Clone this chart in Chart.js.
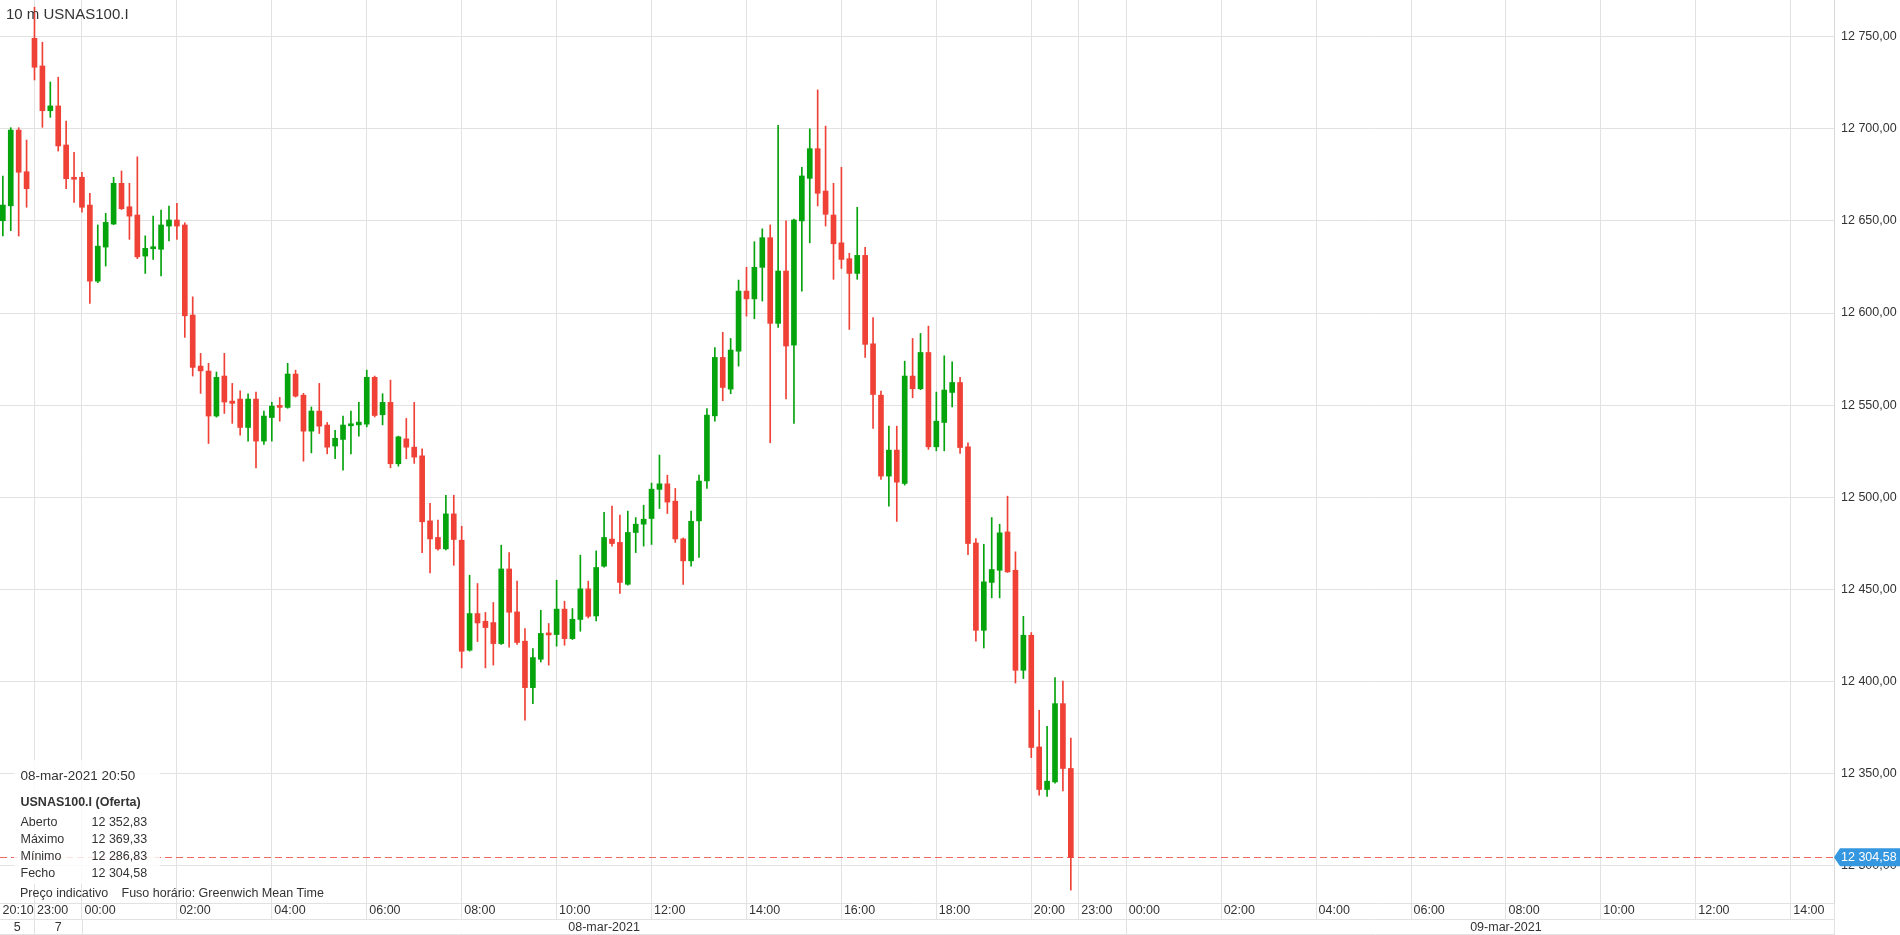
<!DOCTYPE html>
<html>
<head>
<meta charset="utf-8">
<title>10 m USNAS100.I</title>
<script src="https://cdn.jsdelivr.net/npm/chart.js@4.4.1/dist/chart.umd.min.js"></script>
<style>
  html, body { margin: 0; padding: 0; background: #fff; }
  #grafico { display: block; }
</style>
</head>
<body>
<canvas id="grafico" width="1900" height="935"></canvas>
<script>
'use strict';

// Velas de 10 minutos: índice 0 = 07-mar 23:00, os 4 primeiros são de 05-mar (20:20 a 20:50)
const primeiroIndice = -4;

const aberturas = [
    12650.1, 12658.2, 12699.3, 12676.7, 12749.1, 12734.1, 12709.8, 12712.4, 12691.2, 12673.4,
    12673.7, 12658.6, 12617.3, 12635.8, 12648.3, 12670.4, 12657.7, 12653.2, 12630.9, 12634.9,
    12634.6, 12647.2, 12650.5, 12647.8, 12598.9, 12571.2, 12568.5, 12544.1, 12565.8, 12552.2,
    12553.3, 12537.9, 12553.3, 12530.5, 12543.3, 12549.5, 12548.8, 12566.9, 12555.4, 12535.9,
    12546.8, 12539.2, 12527.8, 12531.4, 12538.8, 12539.3, 12539.7, 12565.1, 12544.8, 12551.5,
    12518.2, 12531.7, 12527.2, 12522.5, 12487.2, 12478.2, 12472.0, 12491.0, 12476.7, 12417.0,
    12436.9, 12432.7, 12432.0, 12420.6, 12461.1, 12437.8, 12421.9, 12396.7, 12412.1, 12426.1,
    12425.5, 12439.3, 12423.3, 12433.7, 12450.3, 12435.6, 12462.6, 12477.3, 12475.5, 12452.8,
    12480.9, 12485.4, 12488.5, 12504.3, 12507.3, 12497.9, 12477.4, 12465.5, 12487.2, 12508.9,
    12544.2, 12575.9, 12558.7, 12579.3, 12611.9, 12607.7, 12624.8, 12640.9, 12594.4, 12622.8,
    12582.6, 12650.0, 12673.1, 12689.2, 12666.2, 12653.2, 12638.1, 12629.5, 12621.5, 12631.3,
    12583.3, 12555.4, 12511.5, 12525.6, 12507.5, 12565.8, 12558.9, 12578.6, 12527.4, 12540.6,
    12556.9, 12562.3, 12527.4, 12475.2, 12427.8, 12453.8, 12460.4, 12481.2, 12460.4, 12406.1,
    12425.1, 12364.5, 12341.4, 12345.5, 12388.0, 12352.83
];

const maximos = [
    12674.4, 12700.6, 12700.6, 12693.9, 12766.0, 12747.0, 12725.4, 12728.0, 12704.2, 12687.2,
    12676.4, 12665.0, 12647.8, 12654.1, 12673.7, 12677.1, 12670.4, 12684.8, 12641.9, 12652.6,
    12655.9, 12658.1, 12659.5, 12649.0, 12608.8, 12578.1, 12572.7, 12568.0, 12578.1, 12561.8,
    12557.8, 12556.2, 12557.1, 12546.8, 12551.6, 12554.2, 12572.7, 12569.0, 12556.4, 12549.0,
    12561.8, 12540.6, 12536.4, 12544.1, 12546.8, 12551.6, 12569.0, 12565.8, 12556.2, 12563.6,
    12533.2, 12542.8, 12551.5, 12526.3, 12496.7, 12487.6, 12501.1, 12501.1, 12484.3, 12457.7,
    12453.2, 12437.5, 12442.9, 12474.0, 12470.0, 12454.5, 12428.8, 12417.9, 12438.7, 12431.5,
    12455.0, 12443.6, 12439.6, 12468.6, 12454.5, 12470.9, 12491.9, 12495.2, 12490.3, 12492.5,
    12489.0, 12495.7, 12507.7, 12522.9, 12512.0, 12504.8, 12477.9, 12492.5, 12512.0, 12548.2,
    12581.3, 12589.5, 12586.2, 12617.9, 12624.8, 12638.7, 12645.7, 12647.8, 12701.9, 12650.0,
    12651.0, 12679.1, 12700.0, 12721.1, 12701.5, 12670.4, 12679.1, 12632.4, 12657.4, 12635.6,
    12597.6, 12557.6, 12538.6, 12538.6, 12573.9, 12586.2, 12588.9, 12592.9, 12557.1, 12576.8,
    12573.5, 12565.1, 12529.6, 12477.6, 12474.5, 12489.0, 12485.4, 12500.6, 12470.4, 12435.4,
    12426.6, 12384.4, 12375.7, 12402.2, 12400.2, 12369.33
];

const minimos = [
    12641.8, 12644.7, 12641.8, 12657.4, 12726.5, 12700.8, 12706.2, 12687.9, 12667.5, 12660.1,
    12654.7, 12605.2, 12616.5, 12625.5, 12648.0, 12656.2, 12640.0, 12629.5, 12621.5, 12629.1,
    12620.1, 12639.2, 12640.0, 12586.8, 12565.8, 12556.4, 12529.2, 12543.5, 12545.5, 12540.1,
    12533.7, 12530.5, 12516.0, 12528.7, 12530.5, 12541.3, 12548.3, 12554.4, 12519.6, 12524.1,
    12534.6, 12523.6, 12520.9, 12514.7, 12523.6, 12533.2, 12538.2, 12543.6, 12539.3, 12516.0,
    12516.9, 12520.9, 12518.4, 12470.0, 12459.0, 12471.3, 12471.5, 12463.1, 12407.4, 12416.5,
    12421.7, 12407.4, 12408.9, 12420.1, 12418.6, 12420.2, 12379.0, 12388.0, 12410.6, 12408.9,
    12419.2, 12419.7, 12422.8, 12427.3, 12434.5, 12432.9, 12462.1, 12473.5, 12447.8, 12452.3,
    12470.0, 12473.5, 12474.4, 12493.9, 12491.2, 12475.5, 12452.7, 12462.6, 12467.3, 12504.8,
    12541.3, 12552.4, 12556.2, 12571.2, 12598.3, 12596.9, 12606.5, 12529.6, 12592.2, 12553.4,
    12540.1, 12611.9, 12638.1, 12658.1, 12647.2, 12618.3, 12624.2, 12591.1, 12618.3, 12575.9,
    12537.4, 12509.7, 12495.2, 12486.9, 12506.6, 12554.0, 12558.4, 12526.0, 12525.2, 12525.2,
    12549.1, 12523.8, 12468.9, 12421.9, 12418.2, 12445.4, 12445.4, 12459.2, 12399.2, 12401.6,
    12358.7, 12338.3, 12337.7, 12344.9, 12340.6, 12286.83
];

const fechos = [
    12658.6, 12699.3, 12676.4, 12667.5, 12733.4, 12709.8, 12712.4, 12690.7, 12672.9, 12672.6,
    12657.4, 12617.3, 12636.3, 12649.2, 12670.4, 12656.6, 12652.6, 12630.5, 12635.1, 12635.8,
    12647.8, 12650.5, 12647.2, 12598.5, 12570.5, 12568.6, 12544.1, 12565.1, 12551.7, 12551.0,
    12537.9, 12553.3, 12530.5, 12544.1, 12549.5, 12548.8, 12566.9, 12554.9, 12535.9, 12546.8,
    12538.6, 12527.2, 12532.0, 12539.2, 12539.9, 12540.8, 12565.1, 12544.4, 12551.5, 12518.2,
    12532.8, 12527.2, 12521.8, 12486.7, 12477.4, 12472.0, 12491.0, 12477.1, 12416.4, 12436.9,
    12431.8, 12429.3, 12420.6, 12461.1, 12437.6, 12421.2, 12396.7, 12413.0, 12426.1, 12425.3,
    12439.3, 12423.3, 12433.8, 12450.3, 12435.4, 12461.9, 12478.2, 12474.9, 12453.8, 12480.9,
    12485.4, 12488.1, 12504.4, 12507.3, 12497.4, 12477.4, 12465.5, 12487.0, 12508.8, 12544.6,
    12575.9, 12559.6, 12579.9, 12611.9, 12607.7, 12624.8, 12640.9, 12594.4, 12622.8, 12582.1,
    12650.5, 12674.4, 12689.2, 12665.0, 12653.6, 12637.6, 12629.1, 12621.5, 12631.3, 12583.0,
    12555.8, 12511.5, 12525.6, 12508.2, 12565.8, 12558.9, 12578.6, 12527.4, 12541.3, 12558.2,
    12562.3, 12527.0, 12474.9, 12427.8, 12454.1, 12460.8, 12480.7, 12459.5, 12406.1, 12425.1,
    12364.2, 12341.4, 12345.9, 12388.0, 12352.8, 12304.58
];

// eixos
const xMin = -4.36;
const xMax = 227.47;
const yMin = 12279.8;
const yMax = 12769.9;
const yTicks = [12300, 12350, 12400, 12450, 12500, 12550, 12600, 12650, 12700, 12750];

const horasPos = [xMin, 0, 6, 18, 30, 42, 54, 66, 78, 90, 102, 114, 126, 132, 138, 150, 162, 174, 186, 198, 210, 222];
const horasLabels = ['20:10', '23:00', '00:00', '02:00', '04:00', '06:00', '08:00', '10:00', '12:00', '14:00', '16:00', '18:00', '20:00',
    '23:00', '00:00', '02:00', '04:00', '06:00', '08:00', '10:00', '12:00', '14:00'];

const diasLimites = [0, 6, 138];
const diasLabels = ['5', '7', '08-mar-2021', '09-mar-2021'];
const diasPos = [(xMin + 0) / 2, 3, 72, 186];

const titulo = '10 m USNAS100.I';
const ultimaData = '08-mar-2021 20:50';

const VERDE = '#05a30c';
const VERMELHO = '#ef4136';
const GRELHA = '#e2e2e2';
const TEXTO = '#333333';
const FONTE = "'Liberation Sans', Arial, sans-serif";

function formatarPreco(v) {
    const [inteiro, dec] = v.toFixed(2).split('.');
    return inteiro.replace(/\B(?=(\d{3})+(?!\d))/g, ' ') + ',' + dec;
}

const corVela = (c) => fechos[c.dataIndex] >= aberturas[c.dataIndex] ? VERDE : VERMELHO;

const corpos = aberturas.map((o, k) => ({ x: primeiroIndice + k, y: [o, fechos[k]] }));
const pavios = minimos.map((l, k) => ({ x: primeiroIndice + k, y: [l, maximos[k]] }));

const ultimo = fechos.length - 1;

// sem margens extra à volta da área do gráfico
function semPadding(s) {
    s.paddingTop = 0;
    s.paddingBottom = 0;
    s.paddingLeft = 0;
    s.paddingRight = 0;
}

const overlay = {
    id: 'overlay',
    beforeDatasetsDraw(chart) {
        const { ctx, chartArea: a, scales: { y } } = chart;
        const py = Math.round(y.getPixelForValue(fechos[ultimo])) + 0.5;
        ctx.save();
        ctx.strokeStyle = 'rgba(239,65,54,0.8)';
        ctx.lineWidth = 1;
        ctx.setLineDash([7, 4]);
        ctx.beginPath();
        ctx.moveTo(a.left, py);
        ctx.lineTo(a.right, py);
        ctx.stroke();
        ctx.restore();
    },
    afterDraw(chart) {
        const { ctx, chartArea: a, scales: { x, y } } = chart;
        const H = chart.height;
        ctx.save();

        // linha da data e limites
        ctx.strokeStyle = GRELHA;
        ctx.lineWidth = 1;
        ctx.beginPath();
        ctx.moveTo(0, 919.5); ctx.lineTo(a.right, 919.5);
        ctx.moveTo(0, H - 0.5); ctx.lineTo(a.right, H - 0.5);
        diasLimites.forEach(d => {
            const px = Math.round(x.getPixelForValue(d)) + 0.5;
            ctx.moveTo(px, 919.5); ctx.lineTo(px, H);
        });
        ctx.moveTo(Math.round(a.right) + 0.5, a.bottom);
        ctx.lineTo(Math.round(a.right) + 0.5, H);
        ctx.stroke();

        ctx.fillStyle = TEXTO;
        ctx.font = '12.5px ' + FONTE;
        ctx.textAlign = 'center';
        ctx.textBaseline = 'middle';
        diasLabels.forEach((t, k) => ctx.fillText(t, x.getPixelForValue(diasPos[k]), 927.5));

        // etiqueta do preço actual
        const py = y.getPixelForValue(fechos[ultimo]);
        const r = a.right;
        ctx.fillStyle = '#3597e0';
        ctx.beginPath();
        ctx.moveTo(r, py);
        ctx.lineTo(r + 6, py - 9);
        ctx.lineTo(chart.width, py - 9);
        ctx.lineTo(chart.width, py + 9);
        ctx.lineTo(r + 6, py + 9);
        ctx.closePath();
        ctx.fill();
        ctx.fillStyle = '#ffffff';
        ctx.textAlign = 'left';
        ctx.fillText(formatarPreco(fechos[ultimo]), r + 7, py + 0.5);

        // título
        ctx.fillStyle = TEXTO;
        ctx.font = '15px ' + FONTE;
        ctx.textBaseline = 'alphabetic';
        ctx.fillText(titulo, 6, 19);

        // caixa de informação da última vela
        ctx.fillStyle = 'rgba(255,255,255,0.82)';
        ctx.fillRect(14, 760, 146, 124);
        ctx.fillStyle = TEXTO;
        ctx.font = '13.5px ' + FONTE;
        ctx.fillText(ultimaData, 20.5, 780);
        ctx.font = 'bold 12.5px ' + FONTE;
        ctx.fillText('USNAS100.I (Oferta)', 20.5, 806);
        ctx.font = '12.5px ' + FONTE;
        const linhas = [
            ['Aberto', aberturas[ultimo]],
            ['Máximo', maximos[ultimo]],
            ['Mínimo', minimos[ultimo]],
            ['Fecho', fechos[ultimo]]
        ];
        linhas.forEach(([nome, v], k) => {
            ctx.fillText(nome, 20.5, 826 + k * 17);
            ctx.fillText(formatarPreco(v), 91.5, 826 + k * 17);
        });
        ctx.fillText('Preço indicativo', 20, 897);
        ctx.fillText('Fuso horário: Greenwich Mean Time', 121.5, 897);

        ctx.restore();
    }
};

Chart.defaults.font.family = FONTE;

const chart = new Chart(document.getElementById('grafico').getContext('2d'), {
    type: 'bar',
    data: {
        datasets: [
            { label: 'corpo', data: corpos, backgroundColor: corVela, barThickness: 5, minBarLength: 2, borderWidth: 0, grouped: false },
            { label: 'pavio', data: pavios, backgroundColor: corVela, barThickness: 1, borderWidth: 0, grouped: false }
        ]
    },
    options: {
        responsive: false,
        animation: false,
        layout: { padding: 0 },
        plugins: {
            legend: { display: false },
            tooltip: { enabled: false },
            title: { display: false }
        },
        scales: {
            x: {
                type: 'linear',
                min: xMin,
                max: xMax,
                offset: false,
                grid: {
                    offset: false,
                    color: (c) => c.index === 0 ? 'rgba(0,0,0,0)' : GRELHA,
                    drawTicks: true,
                    tickLength: 17
                },
                border: { color: GRELHA },
                afterBuildTicks: (s) => { s.ticks = horasPos.map(v => ({ value: v })); },
                afterFit: (s) => { s.height = 32; semPadding(s); },
                ticks: {
                    autoSkip: false,
                    maxRotation: 0,
                    minRotation: 0,
                    align: 'start',
                    labelOffset: 2.5,
                    padding: -16.9,
                    color: TEXTO,
                    font: { size: 12.5 },
                    callback: (v, i) => horasLabels[i]
                }
            },
            y: {
                position: 'right',
                min: yMin,
                max: yMax,
                grid: { color: GRELHA, drawTicks: false },
                border: { color: '#d8d8d8' },
                afterBuildTicks: (s) => { s.ticks = yTicks.map(v => ({ value: v })); },
                afterFit: (s) => { s.width = 66; semPadding(s); },
                ticks: {
                    padding: 7,
                    color: TEXTO,
                    font: { size: 12.5 },
                    callback: (v) => formatarPreco(v)
                }
            }
        }
    },
    plugins: [overlay]
});
</script>
</body>
</html>
